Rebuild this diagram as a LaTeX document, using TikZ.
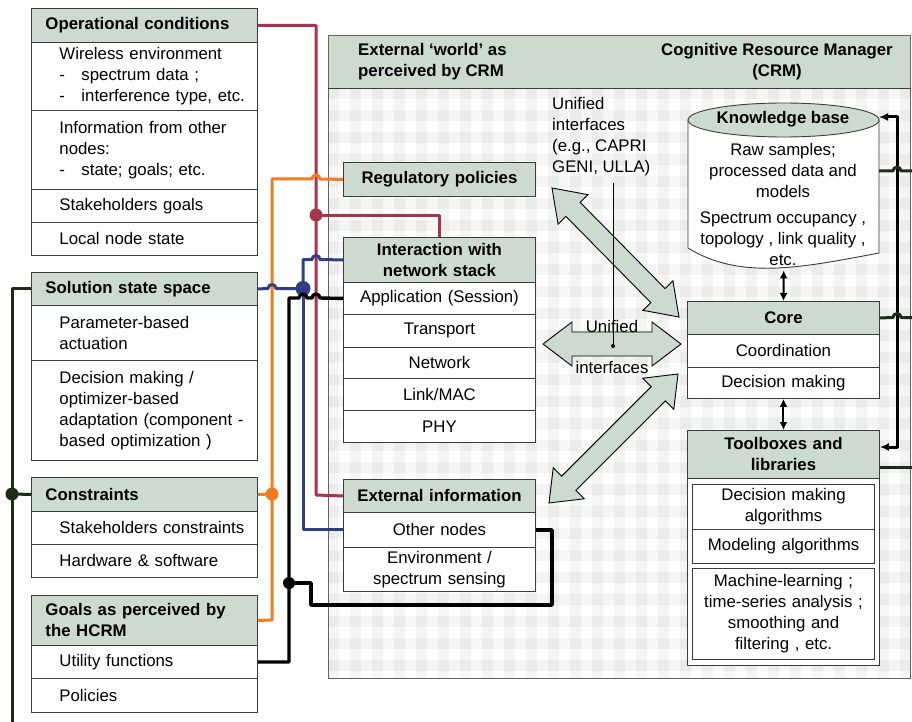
\documentclass[tikz,border=0pt]{standalone}
\usepackage{fontspec}
\setmainfont{Liberation Sans}
\usetikzlibrary{calc,arrows.meta}

\definecolor{hdrfill}{HTML}{CCDAD0}
\definecolor{edgecol}{HTML}{3C3C3C}
\definecolor{lnmaroon}{HTML}{A5344C}
\definecolor{lnorange}{HTML}{F47B20}
\definecolor{lnnavy}{HTML}{2F3F82}
\definecolor{lngreen}{HTML}{1D2C17}

\newcommand\hdin{\hspace*{11pt}}
\newcommand\cellin{\hspace*{25pt}}
\newcommand\dashln[1]{\cellin\makebox[22pt][l]{-}#1}

% wide double-headed block arrow: tip A, tip B, head length, head half-width, shaft half-width
\newcommand\bigdbl[5]{%
  \filldraw[bigarrow] (#1)
   -- ($(#1)!#3!(#2)!#4!90:(#2)$)
   -- ($(#1)!#3!(#2)!#5!90:(#2)$)
   -- ($(#2)!#3!(#1)!#5!-90:(#1)$)
   -- ($(#2)!#3!(#1)!#4!-90:(#1)$)
   -- (#2)
   -- ($(#2)!#3!(#1)!#4!90:(#1)$)
   -- ($(#2)!#3!(#1)!#5!90:(#1)$)
   -- ($(#1)!#3!(#2)!#5!-90:(#2)$)
   -- ($(#1)!#3!(#2)!#4!-90:(#2)$)
   -- cycle;}

\begin{document}
\begin{tikzpicture}[x=1pt,y=-1pt,
  every node/.style={font=\fontsize{16.8}{21}\selectfont, inner sep=0pt},
  boldtxt/.style={font=\fontsize{16.8}{21}\selectfont\bfseries},
  leftcell/.style={draw=edgecol, line width=0.9pt, fill=white, anchor=north west,
    minimum width=226pt, text width=220pt, inner xsep=3pt, inner ysep=0pt, align=left},
  lefthead/.style={leftcell, fill=hdrfill, boldtxt},
  midcell/.style={draw=edgecol, line width=0.9pt, fill=white, anchor=north west,
    minimum width=192pt, text width=186pt, inner xsep=3pt, inner ysep=0pt, align=center},
  midhead/.style={midcell, fill=hdrfill, boldtxt},
  innercell/.style={midcell, minimum width=182pt, text width=176pt, line width=1.1pt},
  bigarrow/.style={fill=hdrfill, draw=black, line width=0.9pt, line join=miter},
  link/.style={line width=3pt, line join=round},
  blklink/.style={link, black, line width=3.4pt},
  smallarrow/.style={line width=2pt, {Latex[length=8pt,width=8pt]}-{Latex[length=8pt,width=8pt]}}
]
\useasboundingbox (0,0) rectangle (912,722);
\fill[white] (0,0) rectangle (912,722);

% ---------- CRM frame with gingham body ----------
\fill[hdrfill] (328,35) rectangle (910,88);
\begin{scope}
  \clip (328,88) rectangle (910,678);
  \foreach \k in {0,...,26} {
    \fill[black, opacity=0.04] ({328+22*\k},88) rectangle ({339+22*\k},678);
    \fill[black, opacity=0.04] (328,{88+22*\k}) rectangle (910,{99+22*\k});
  }
\end{scope}
\node[draw=edgecol!80, line width=0.9pt, anchor=north west, minimum width=582pt, minimum height=643pt] (crm) at (328,35) {};
\draw[edgecol, line width=0.9pt] (crm.north west |- 0,88) -- (crm.north east |- 0,88);
\node[boldtxt, align=left, anchor=west] (crmleft) at (358,62) {External ‘world’ as\\perceived by CRM};
\node[boldtxt, align=center] (crmright) at (777,62) {Cognitive Resource Manager\\(CRM)};

% ---------- left column ----------
\node[lefthead, minimum height=34pt] (opc) at (31,8) {\hdin Operational conditions};
\node[leftcell, minimum height=68pt] (opc1) at (31,42) {\cellin Wireless environment\\\dashln{spectrum data ;}\\\dashln{interference type, etc.}};
\node[leftcell, minimum height=79pt] (opc2) at (31,110) {\cellin Information from other\\\cellin nodes:\\\dashln{state; goals; etc.}};
\node[leftcell, minimum height=33pt] (opc3) at (31,189) {\cellin Stakeholders goals};
\node[leftcell, minimum height=33pt] (opc4) at (31,222) {\cellin Local node state};

\node[lefthead, minimum height=33pt] (sss) at (31,272) {\hdin Solution state space};
\node[leftcell, minimum height=55pt] (sss1) at (31,305) {\cellin Parameter-based\\\cellin actuation};
\node[leftcell, minimum height=100pt] (sss2) at (31,360) {\cellin Decision making /\\\cellin optimizer-based\\\cellin adaptation (component -\\\cellin based optimization )};

\node[lefthead, minimum height=34pt] (con) at (31,477) {\hdin Constraints};
\node[leftcell, minimum height=33pt] (con1) at (31,511) {\cellin Stakeholders constraints};
\node[leftcell, minimum height=33pt] (con2) at (31,544) {\cellin Hardware \& software};

\node[lefthead, minimum height=50pt] (goal) at (31,595) {\hdin Goals as perceived by\\\hdin the HCRM};
\node[leftcell, minimum height=33pt] (util) at (31,645) {\cellin Utility functions};
\node[leftcell, minimum height=34pt] (pol) at (31,678) {\cellin Policies};

% ---------- external world column ----------
\node[midhead, minimum height=34pt] (reg) at (343,162) {Regulatory policies};
\node[midhead, minimum height=45pt] (inter) at (343,237) {Interaction with\\network stack};
\node[midcell, minimum height=32pt] (app) at (343,282) {Application (Session)};
\node[midcell, minimum height=33pt] (trans) at (343,314) {Transport};
\node[midcell, minimum height=31pt] (net) at (343,347) {Network};
\node[midcell, minimum height=32pt] (lnk) at (343,378) {Link/MAC};
\node[midcell, minimum height=32pt] (phy) at (343,410) {PHY};

\node[midhead, minimum height=33pt] (ext) at (343,479) {External information};
\node[midcell, minimum height=35pt] (oth) at (343,512) {Other nodes};
\node[midcell, minimum height=44pt] (env) at (343,547) {Environment /\\spectrum sensing};

% ---------- knowledge base ----------
\filldraw[fill=white, draw=edgecol, line width=0.9pt] (688,120) -- (688,248)
  .. controls (740,280) and (800,268) .. (879,253) -- (879,120) -- cycle;
\filldraw[fill=hdrfill, draw=edgecol, line width=0.9pt] (783.5,120) ellipse [x radius=95.5pt, y radius=17pt];
\node[anchor=north west, minimum width=191pt, minimum height=167pt] (kb) at (688,103) {};
\node[boldtxt] (kbtitle) at (783,119) {Knowledge base};
\node[align=center] (kbraw) at (783,170) {Raw samples;\\processed data and\\models};
\node[align=center] (kbspec) at (783,239) {Spectrum occupancy ,\\topology , link quality ,\\etc.};

% ---------- core ----------
\node[midhead, minimum height=33pt] (core) at (687,301) {Core};
\node[midcell, minimum height=33pt] (coord) at (687,334) {Coordination};
\node[midcell, minimum height=31pt] (dec) at (687,367) {Decision making};

% ---------- toolboxes ----------
\node[midhead, minimum height=48pt] (toolhead) at (687,430) {Toolboxes and\\libraries};
\node[midcell, minimum height=187pt] (toolbody) at (687,478) {};
\node[innercell, minimum height=45pt] (tdm) at (692,484) {Decision making\\algorithms};
\node[innercell, minimum height=34pt] (tmod) at (692,529) {Modeling algorithms};
\node[innercell, minimum height=91pt] (tml) at (692,568) {Machine-learning ;\\time-series analysis ;\\smoothing and\\filtering , etc.};

\draw[smallarrow] (kb.south) -- (core.north);
\draw[smallarrow] (dec.south) -- (toolhead.north);

% ---------- unified interfaces ----------
\coordinate (a1s) at (552,188); \coordinate (a1e) at (679,317);
\coordinate (a2s) at (543,344); \coordinate (a2e) at (681,344);
\coordinate (a3s) at (678,374); \coordinate (a3e) at (549,503);
\bigdbl{a1s}{a1e}{30pt}{21pt}{10pt}
\bigdbl{a2s}{a2e}{29pt}{22pt}{12pt}
\bigdbl{a3s}{a3e}{28pt}{22pt}{10pt}
\node (uniA) at (612,326) {Unified};
\node (uniB) at (612,367) {interfaces};
\node[align=left, anchor=west] (unilbl) at (552,137) {Unified\\interfaces\\(e.g., CAPRI\\GENI, ULLA)};
\coordinate (unidot) at (613,346);
\draw[line width=0.8pt] (unilbl.south -| unidot) ++(0,6) -- (unidot);
\fill (unidot) circle (2pt);

% ---------- connectors ----------
% operational conditions
\draw[link, lnmaroon] (opc.east) -| (316,495) -- (ext.west);
\draw[link, lnmaroon] (316,215) -| (inter.north);
\fill[lnmaroon] (316,215) circle (6.5pt);

% regulatory policies
\draw[link, lnorange] (reg.west) -- (320,179) arc[start angle=0, end angle=180, radius=4pt]
  -- (272,179) -- (272,620) -- (goal.east);
\draw[link, lnorange] (272,494) -- (con.east);
\fill[lnorange] (272,494) circle (6.5pt);

% solution state space
\draw[link, lnnavy] (sss.east) -- (268,288.5) arc[start angle=180, end angle=0, radius=4pt]
  -- (303,288.5);
\draw[link, lnnavy] (303,288.5) -- (303,259.5) -- (312,259.5) arc[start angle=180, end angle=0, radius=4pt]
  -- (inter.west);
\draw[link, lnnavy] (303,288.5) |- (oth.west);
\fill[lnnavy] (303,288.5) circle (7.5pt);

% utility functions
\draw[blklink] (app.west) -- (320,298) arc[start angle=0, end angle=180, radius=4pt]
  -- (307,298) arc[start angle=0, end angle=180, radius=4pt] -- (289,298) |- (util.east);
\draw[blklink] (289,583) -- (311,583) -- (311,605) -- (552,605) |- (oth.east);
\fill (289,583) circle (6pt);

% feedback to the CRM blocks
\draw[link, lngreen] (sss.west) -| (12,722);
\draw[link, lngreen] (12,494) -- (con.west);
\fill[lngreen] (12,494) circle (6.5pt);

\coordinate (kbin) at (879,117);
\coordinate (kbR) at (879,171);
\draw[blklink, line width=3pt, {Latex[length=9pt,width=8pt]}-{Latex[length=9pt,width=8pt]}]
  (kbin) -- (897,117) -- (897,447) -- (toolhead.east |- 0,447);
\draw[link, lngreen] (kbR) -- (893,171) arc[start angle=180, end angle=0, radius=4pt] -- (912,171);
\draw[link, lngreen] (core.east) -- (893,317.5) arc[start angle=180, end angle=0, radius=4pt] -- (912,317.5);
\draw[link, lngreen] (toolhead.east |- 0,467) -- (912,467);
\end{tikzpicture}
\end{document}
